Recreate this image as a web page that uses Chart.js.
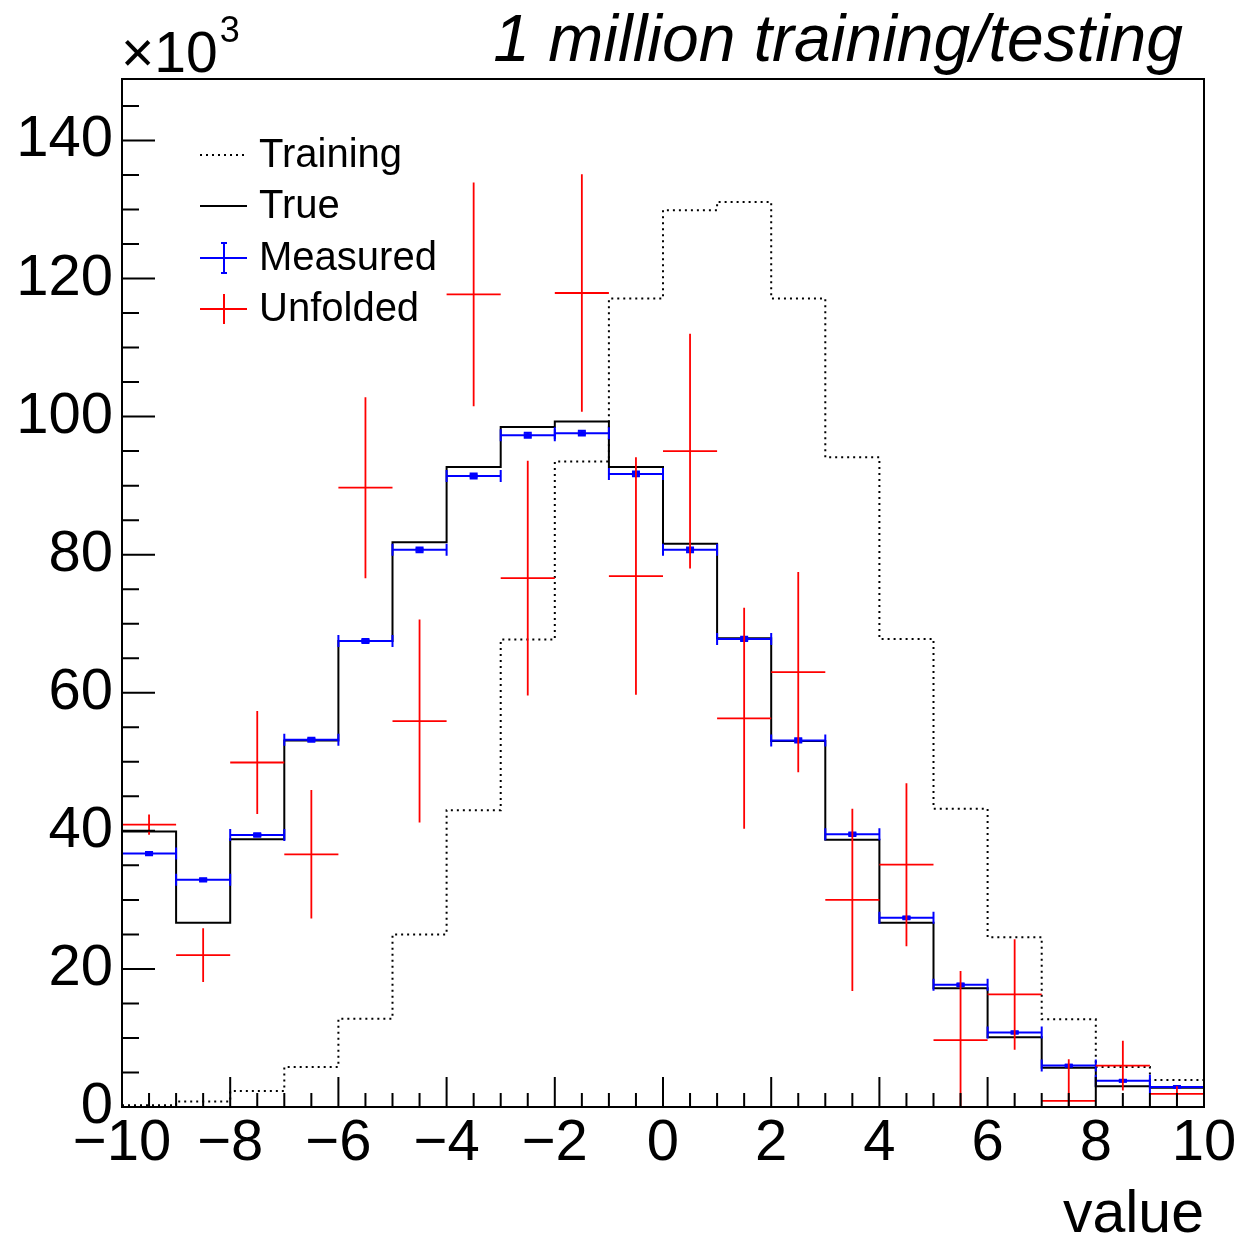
<!DOCTYPE html>
<html>
<head>
<meta charset="utf-8">
<title>Unfolding</title>
<script src="https://cdn.jsdelivr.net/npm/chart.js@4.4.1/dist/chart.umd.min.js"></script>
<style>
  html, body { margin: 0; padding: 0; background: #fff; }
</style>
</head>
<body>
<canvas id="unfoldChart" width="1242" height="1236"></canvas>
<script>
// bin edges of the histogram (20 bins of width 1)
const binEdges = [-10, -9, -8, -7, -6, -5, -4, -3, -2, -1, 0, 1, 2, 3, 4, 5, 6, 7, 8, 9, 10];

// counts in units of 10^3
const trainingCounts = [0.25, 0.8, 2.3, 5.8, 12.8, 25.0, 43.0, 67.7, 93.5, 117.1, 129.9, 131.1, 117.1, 94.1, 67.8, 43.2, 24.6, 12.7, 5.8, 3.9];
const trueCounts     = [39.9, 26.7, 38.8, 53.1, 67.5, 81.8, 92.7, 98.5, 99.3, 92.7, 81.6, 67.9, 53.0, 38.7, 26.7, 17.2, 10.1, 5.7, 3.0, 2.8];
const measuredCounts = [36.7, 32.9, 39.4, 53.2, 67.5, 80.7, 91.4, 97.3, 97.6, 91.7, 80.7, 67.8, 53.1, 39.5, 27.4, 17.7, 10.8, 6.0, 3.8, 2.9];
const measuredErr    = [0.25, 0.25, 0.25, 0.3, 0.3, 0.35, 0.35, 0.35, 0.35, 0.35, 0.35, 0.3, 0.3, 0.25, 0.2, 0.2, 0.15, 0.1, 0.1, 0.1];
const unfoldedCounts = [40.9, 22.0, 49.9, 36.6, 89.7, 55.9, 117.7, 76.6, 117.9, 76.9, 95.0, 56.3, 63.0, 30.0, 35.1, 9.7, 16.3, 0.9, 6.0, 1.9];
const unfoldedErr    = [1.45, 3.9, 7.45, 9.3, 13.1, 14.7, 16.2, 17.0, 17.2, 17.2, 17.0, 16.0, 14.5, 13.2, 11.8, 10.0, 8.0, 6.0, 3.6, 1.1];

// axis ticks
const xTickValues = [-10, -8, -6, -4, -2, 0, 2, 4, 6, 8, 10];
const yTickValues = [0, 20, 40, 60, 80, 100, 120, 140];
const yMax = 148.9;

const legendLabels = ['Training', 'True', 'Measured', 'Unfolded'];
const titleText = '1 million training/testing';
const xAxisTitle = 'value';

const FONT = '"Liberation Sans", Arimo, Helvetica, Arial, sans-serif';

// histogram as a stepped line: one point per left edge + closing point
function stepPoints(counts) {
  const pts = counts.map((c, i) => ({ x: binEdges[i], y: c }));
  pts.push({ x: binEdges[binEdges.length - 1], y: counts[counts.length - 1] });
  return pts;
}

// one point per bin centre, keeping the bin range and error for the error bars
function centerPoints(counts, errs) {
  return counts.map((c, i) => ({
    x: (binEdges[i] + binEdges[i + 1]) / 2,
    y: c,
    err: errs[i],
    lo: binEdges[i],
    hi: binEdges[i + 1]
  }));
}

// draws the horizontal bin-width bar + vertical error bar for datasets that ask for it
const errorBarPlugin = {
  id: 'errorBars',
  afterDatasetsDraw(chart) {
    const { ctx, chartArea, scales } = chart;
    const xs = scales.x, ys = scales.y;
    ctx.save();
    ctx.beginPath();
    ctx.rect(chartArea.left, chartArea.top, chartArea.right - chartArea.left, chartArea.bottom - chartArea.top);
    ctx.clip();
    chart.data.datasets.forEach((ds, i) => {
      if (!ds.errorBars) return;
      const meta = chart.getDatasetMeta(i);
      const eb = ds.errorBars;
      ctx.strokeStyle = ds.borderColor;
      ctx.lineWidth = eb.lineWidth;
      meta.data.forEach((pt, j) => {
        const d = ds.data[j];
        const xl = xs.getPixelForValue(d.lo);
        const xr = xs.getPixelForValue(d.hi);
        const yc = pt.y;
        const yTop = ys.getPixelForValue(d.y + d.err);
        const yBot = ys.getPixelForValue(d.y - d.err);
        ctx.beginPath();
        ctx.moveTo(xl, yc);
        ctx.lineTo(xr, yc);
        ctx.moveTo(pt.x, yTop);
        ctx.lineTo(pt.x, yBot);
        if (eb.endTicks) {
          ctx.moveTo(xl, yc - eb.endTicks);
          ctx.lineTo(xl, yc + eb.endTicks);
          ctx.moveTo(xr, yc - eb.endTicks);
          ctx.lineTo(xr, yc + eb.endTicks);
        }
        if (eb.caps) {
          ctx.moveTo(pt.x - eb.caps, yTop);
          ctx.lineTo(pt.x + eb.caps, yTop);
          ctx.moveTo(pt.x - eb.caps, yBot);
          ctx.lineTo(pt.x + eb.caps, yBot);
        }
        ctx.stroke();
        if (eb.box) {
          ctx.fillStyle = ds.borderColor;
          ctx.fillRect(pt.x - eb.box, yc - 2, eb.box * 2, 4);
        }
      });
    });
    ctx.restore();
  }
};

// ROOT style frame with inward ticks, title, x10^3, axis title and legend
const decorPlugin = {
  id: 'rootDecor',
  afterDraw(chart) {
    const { ctx, chartArea } = chart;
    const xs = chart.scales.x, ys = chart.scales.y;
    const L = chartArea.left, R = chartArea.right, T = chartArea.top, B = chartArea.bottom;
    ctx.save();
    ctx.strokeStyle = '#000';
    ctx.lineWidth = 2;
    ctx.strokeRect(L, T, R - L, B - T);

    ctx.beginPath();
    for (let v = 0; v <= yMax; v += 5) {
      const py = ys.getPixelForValue(v);
      const len = yTickValues.includes(v) ? 33 : 17;
      ctx.moveTo(L, py);
      ctx.lineTo(L + len, py);
    }
    for (let v = -10; v <= 10; v += 0.5) {
      const px = xs.getPixelForValue(v);
      const len = xTickValues.includes(v) ? 30 : 14;
      ctx.moveTo(px, B);
      ctx.lineTo(px, B - len);
    }
    ctx.stroke();

    ctx.fillStyle = '#000';
    ctx.textBaseline = 'alphabetic';

    // title
    ctx.font = 'italic 66px ' + FONT;
    ctx.textAlign = 'right';
    ctx.fillText(titleText, 1183, 61);

    // x10^3
    ctx.textAlign = 'left';
    ctx.font = '57px ' + FONT;
    ctx.fillText('\u00d710', 121, 72);
    const w = ctx.measureText('\u00d710').width;
    ctx.font = '36px ' + FONT;
    ctx.fillText('3', 121 + w + 2, 42);

    // x axis title
    ctx.font = '59px ' + FONT;
    ctx.textAlign = 'right';
    ctx.fillText(xAxisTitle, 1204, 1232);

    // legend
    const rows = [155, 206, 258, 309];
    const sx0 = 200, sx1 = 247, sxc = 224;
    ctx.font = '40px ' + FONT;
    ctx.textAlign = 'left';
    legendLabels.forEach((lab, k) => {
      ctx.fillStyle = '#000';
      ctx.fillText(lab, 259, rows[k] + 12);
    });
    // Training
    ctx.lineWidth = 2;
    ctx.strokeStyle = '#000';
    ctx.setLineDash([2, 4]);
    ctx.beginPath(); ctx.moveTo(sx0, rows[0]); ctx.lineTo(sx1, rows[0]); ctx.stroke();
    ctx.setLineDash([]);
    // True
    ctx.beginPath(); ctx.moveTo(sx0, rows[1]); ctx.lineTo(sx1, rows[1]); ctx.stroke();
    // Measured
    ctx.strokeStyle = '#0000ff';
    ctx.beginPath();
    ctx.moveTo(sx0, rows[2]); ctx.lineTo(sx1, rows[2]);
    ctx.moveTo(sxc, rows[2] - 15); ctx.lineTo(sxc, rows[2] + 15);
    ctx.moveTo(sxc - 3, rows[2] - 15); ctx.lineTo(sxc + 3, rows[2] - 15);
    ctx.moveTo(sxc - 3, rows[2] + 15); ctx.lineTo(sxc + 3, rows[2] + 15);
    ctx.stroke();
    // Unfolded
    ctx.strokeStyle = '#ff0000';
    ctx.beginPath();
    ctx.moveTo(sx0, rows[3]); ctx.lineTo(sx1, rows[3]);
    ctx.moveTo(sxc, rows[3] - 15); ctx.lineTo(sxc, rows[3] + 15);
    ctx.stroke();
    ctx.restore();
  }
};

const ctx = document.getElementById('unfoldChart').getContext('2d');

new Chart(ctx, {
  type: 'line',
  data: {
    datasets: [
      {
        label: 'Training',
        data: stepPoints(trainingCounts),
        stepped: 'before',
        borderColor: '#000',
        borderWidth: 2,
        borderDash: [2, 4],
        pointRadius: 0,
        fill: false,
        order: 4
      },
      {
        label: 'True',
        data: stepPoints(trueCounts),
        stepped: 'before',
        borderColor: '#000',
        borderWidth: 2,
        pointRadius: 0,
        fill: false,
        order: 3
      },
      {
        label: 'Measured',
        data: centerPoints(measuredCounts, measuredErr),
        showLine: false,
        borderColor: '#0000ff',
        pointRadius: 0,
        errorBars: { lineWidth: 2, endTicks: 6, caps: 4, box: 4 },
        order: 2
      },
      {
        label: 'Unfolded',
        data: centerPoints(unfoldedCounts, unfoldedErr),
        showLine: false,
        borderColor: '#ff0000',
        pointRadius: 0,
        errorBars: { lineWidth: 1.8 },
        order: 1
      }
    ]
  },
  options: {
    responsive: false,
    animation: false,
    devicePixelRatio: 1,
    layout: { padding: { top: 79, right: 38, left: 0, bottom: 0 } },
    plugins: {
      legend: { display: false },
      tooltip: { enabled: false },
      title: { display: false }
    },
    scales: {
      x: {
        type: 'linear',
        min: -10,
        max: 10,
        afterBuildTicks: (s) => { s.ticks = xTickValues.map(v => ({ value: v })); },
        afterFit: (s) => { s.height = 129; },
        grid: { display: false, drawTicks: false },
        border: { display: false },
        ticks: {
          autoSkip: false,
          maxRotation: 0,
          padding: 2,
          color: '#000',
          font: { family: FONT, size: 58 },
          callback: (v) => (v < 0 ? '\u2212' + Math.abs(v) : String(v))
        }
      },
      y: {
        type: 'linear',
        min: 0,
        max: yMax,
        afterBuildTicks: (s) => { s.ticks = yTickValues.map(v => ({ value: v })); },
        afterFit: (s) => { s.width = 122; },
        grid: { display: false, drawTicks: false },
        border: { display: false },
        ticks: {
          padding: 9,
          color: '#000',
          font: { family: FONT, size: 58 }
        }
      }
    }
  },
  plugins: [errorBarPlugin, decorPlugin]
});
</script>
</body>
</html>
